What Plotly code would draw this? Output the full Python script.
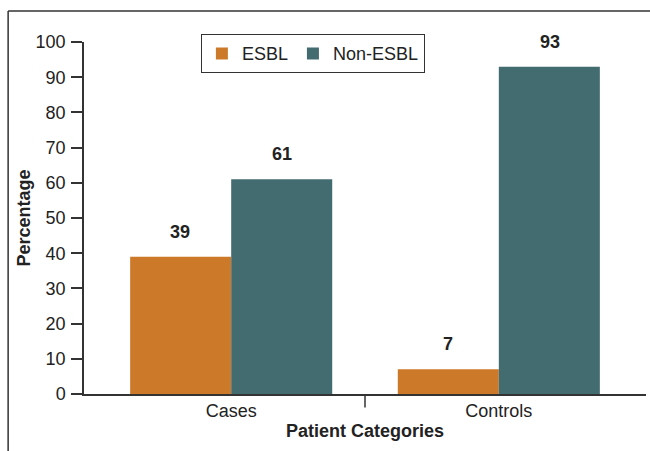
import plotly.graph_objects as go

categories = ["Cases", "Controls"]
esbl = [39, 7]
non_esbl = [61, 93]

ORANGE = "#CC7A29"
TEAL = "#436C71"
FONT = "Liberation Sans, Arial, Helvetica, sans-serif"
INK = "#222222"

fig = go.Figure()
fig.add_trace(go.Bar(x=categories, y=esbl, name="ESBL",
                     marker=dict(color=ORANGE, line_width=0)))
fig.add_trace(go.Bar(x=categories, y=non_esbl, name="Non-ESBL",
                     marker=dict(color=TEAL, line_width=0)))

# value labels above bars
for i, cat in enumerate(categories):
    for off, val in ((-0.19, esbl[i]), (0.19, non_esbl[i])):
        fig.add_annotation(x=i + off, y=val, text="<b>%d</b>" % val,
                           showarrow=False, yanchor="bottom", yshift=13,
                           font=dict(size=18, color=INK, family=FONT))

fig.update_layout(
    width=650, height=451,
    margin={'l': 84, 'r': 4, 't': 42, 'b': 57, 'autoexpand': False},
    paper_bgcolor="white", plot_bgcolor="white",
    barmode="group", bargap=0.245, bargroupgap=0,
    font=dict(family=FONT, size=18, color=INK),
    showlegend=True,
    legend=dict(orientation="h", x=0.208, y=1.022, xanchor="left",
                yanchor="top", bordercolor="#333333", borderwidth=1,
                font=dict(size=18, color=INK), itemsizing="constant",
                itemwidth=30, tracegroupgap=0),
    xaxis=dict(range=[-0.55, 1.55], showline=True, linecolor="#333333",
               linewidth=1.5, ticks="", showgrid=False, automargin=False,
               tickfont=dict(size=18, color=INK),
               title=dict(text="<b>Patient Categories</b>", standoff=4,
                          font=dict(size=18, color=INK))),
    yaxis=dict(range=[0, 100], dtick=10, showline=True, linecolor="#333333",
               linewidth=1.5, ticks="outside", ticklen=11, tickwidth=1.5,
               tickcolor="#333333", showgrid=False, zeroline=False,
               ticklabelstandoff=2, automargin=False,
               tickfont=dict(size=18, color=INK),
               title=dict(text="<b>Percentage</b>", standoff=0,
                          font=dict(size=18, color=INK))),
)

# category divider tick below the x axis
fig.add_shape(type="line", xref="x", yref="paper", x0=0.5, x1=0.5,
              y0=0, y1=-0.038, line=dict(color="#333333", width=1.5))
# frame (left and top edges visible)
fig.add_shape(type="line", xref="paper", yref="paper", x0=-0.135, x1=1.1,
              y0=1.088, y1=1.088, line=dict(color="#333333", width=1.5))
fig.add_shape(type="line", xref="paper", yref="paper", x0=-0.135, x1=-0.135,
              y0=1.088, y1=-0.2, line=dict(color="#333333", width=1.5))

fig.write_html("out.html", config={'displayModeBar': False},
               post_script="document.body.style.margin='0px';")
